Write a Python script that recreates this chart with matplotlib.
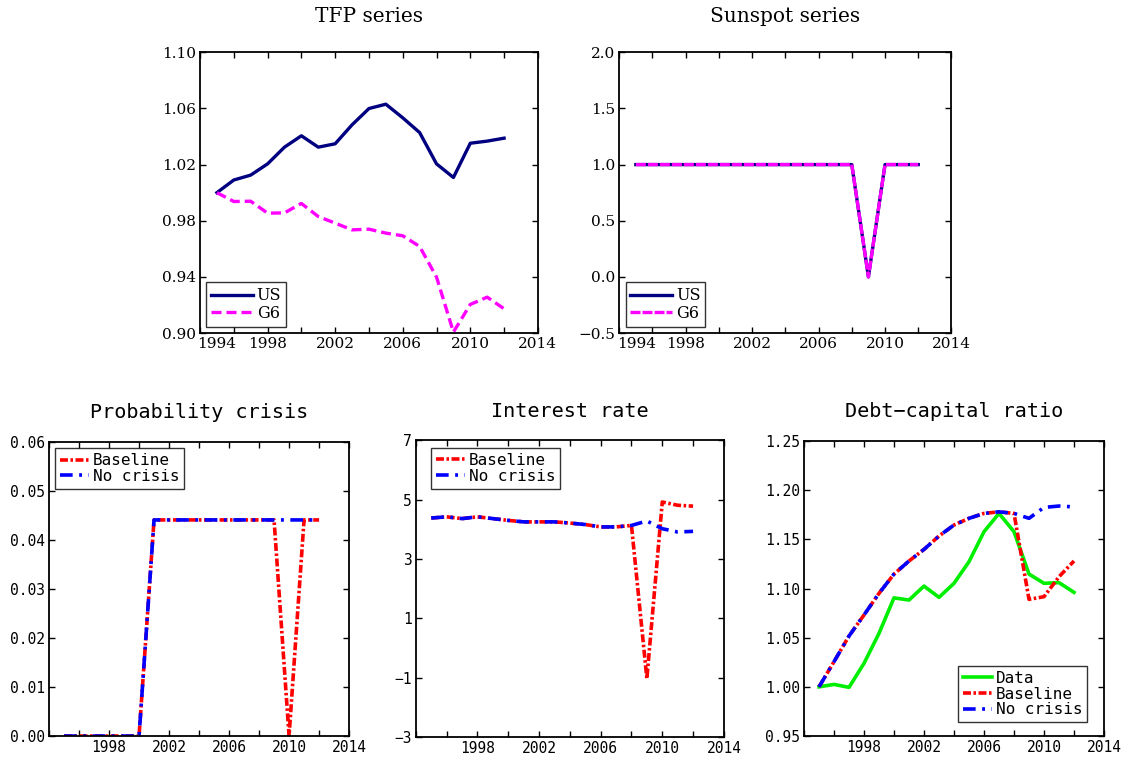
import matplotlib
matplotlib.use('Agg')
import matplotlib.pyplot as plt
import matplotlib.transforms as mtransforms
import numpy as np

# years of the simulated / observed series
years = list(range(1995, 2013))

# TFP series (index, 1995 = 1)
tfp_us = [1.000, 1.009, 1.0125, 1.0205, 1.0324, 1.0405, 1.0324, 1.0348, 1.0483,
          1.0599, 1.063, 1.0533, 1.0428, 1.0205, 1.0108, 1.0352, 1.0367, 1.0388]
tfp_g6 = [1.000, 0.9937, 0.9939, 0.9854, 0.9856, 0.9923, 0.983, 0.9783, 0.9735,
          0.974, 0.9712, 0.9693, 0.9617, 0.9399, 0.9007, 0.9204, 0.9256, 0.9173]

# sunspot series
sun_us = [1, 1, 1, 1, 1, 1, 1, 1, 1, 1, 1, 1, 1, 1, 0, 1, 1, 1]
sun_g6 = [1, 1, 1, 1, 1, 1, 1, 1, 1, 1, 1, 1, 1, 1, 0, 1, 1, 1]

# probability of a crisis
prob_base = [0, 0, 0, 0, 0, 0, 0.0441, 0.0441, 0.0441, 0.0441, 0.0441, 0.0441,
             0.0441, 0.0441, 0.0441, 0, 0.0441, 0.0441]
prob_nocr = [0, 0, 0, 0, 0, 0, 0.0441, 0.0441, 0.0441, 0.0441, 0.0441, 0.0441,
             0.0441, 0.0441, 0.0441, 0.0441, 0.0441, 0.0441]

# interest rate
rate_base = [4.38, 4.42, 4.36, 4.42, 4.36, 4.30, 4.25, 4.25, 4.25, 4.21, 4.16,
             4.08, 4.08, 4.13, -1.03, 4.92, 4.81, 4.78]
rate_nocr = [4.38, 4.42, 4.36, 4.42, 4.36, 4.30, 4.25, 4.25, 4.25, 4.21, 4.16,
             4.08, 4.08, 4.13, 4.28, 4.02, 3.91, 3.93]

# debt-capital ratio
debt_data = [1.000, 1.0025, 0.9995, 1.0239, 1.0544, 1.0905, 1.0883, 1.1025, 1.091,
             1.1053, 1.1273, 1.1578, 1.1764, 1.1578, 1.1147, 1.1053, 1.106, 1.0961]
debt_base = [1.000, 1.0256, 1.0517, 1.0731, 1.0951, 1.1147, 1.128, 1.1398, 1.1534,
             1.1646, 1.1714, 1.1764, 1.178, 1.1764, 1.089, 1.0917, 1.112, 1.128]
debt_nocr = [1.000, 1.0256, 1.0517, 1.0731, 1.0951, 1.1147, 1.128, 1.1398, 1.1534,
             1.1646, 1.1714, 1.1764, 1.178, 1.1764, 1.1714, 1.1825, 1.1839, 1.183]

serif = 'DejaVu Serif'
mono = 'DejaVu Sans Mono'

fig = plt.figure(figsize=(11.3, 7.57), dpi=100)

ax1 = fig.add_axes([0.177, 0.560, 0.299, 0.371])
ax2 = fig.add_axes([0.548, 0.560, 0.294, 0.371])
ax3 = fig.add_axes([0.0434, 0.0277, 0.2655, 0.3884])
ax4 = fig.add_axes([0.368, 0.0264, 0.2726, 0.392])
ax5 = fig.add_axes([0.7115, 0.0277, 0.2655, 0.3897])

base_style = dict(color='red', lw=2.6, linestyle=(0, (2.2, 0.7, 0.7, 0.7)))
nocr_style = dict(color='blue', lw=2.6, linestyle=(0, (3.5, 1.8, 0.8, 1.8)))


def style_axes(ax, font, tsize, first_label):
    ax.set_xlim(1994, 2014)
    ax.set_xticks(np.arange(1994, 2015, 4))
    ax.set_xticks(np.arange(1996, 2014, 4), minor=True)
    ax.tick_params(which='both', direction='in', top=True, right=True,
                   length=4, width=1, labelsize=tsize, pad=3)
    for s in ax.spines.values():
        s.set_linewidth(1.3)
    for lab in ax.get_xticklabels() + ax.get_yticklabels():
        lab.set_fontfamily(font)
    labs = ax.get_xticklabels()
    if first_label:
        off = mtransforms.ScaledTranslation(0.17, 0, fig.dpi_scale_trans)
        labs[0].set_transform(labs[0].get_transform() + off)
    else:
        labs[0].set_visible(False)


def legend(ax, loc, font, size, anchor=None, hlen=1.8):
    kw = {}
    if anchor is not None:
        kw['bbox_to_anchor'] = anchor
    leg = ax.legend(loc=loc, prop={'family': font, 'size': size}, fancybox=False,
                    handlelength=hlen, handletextpad=0.25, borderpad=0.3,
                    labelspacing=0.05, borderaxespad=0.4, **kw)
    leg.get_frame().set_edgecolor('black')
    leg.get_frame().set_linewidth(1.0)


# TFP series
ax1.plot(years, tfp_us, color='#000080', lw=2.4, label='US')
ax1.plot(years, tfp_g6, color='#ff00ff', lw=2.4, linestyle=(0, (3, 1.5)), label='G6')
ax1.set_ylim(0.90, 1.10)
ax1.set_yticks([0.90, 0.94, 0.98, 1.02, 1.06, 1.10])
ax1.set_yticklabels(['0.90', '0.94', '0.98', '1.02', '1.06', '1.10'])
style_axes(ax1, serif, 11, True)
ax1.set_title('TFP series', family=serif, fontsize=14.5, pad=22)
legend(ax1, 'lower left', serif, 11.5, hlen=2.6)

# Sunspot series
ax2.plot(years, sun_us, color='#000080', lw=2.4, label='US')
ax2.plot(years, sun_g6, color='#ff00ff', lw=2.4, linestyle=(0, (3, 0.6)), label='G6')
ax2.set_ylim(-0.5, 2.0)
ax2.set_yticks([-0.5, 0.0, 0.5, 1.0, 1.5, 2.0])
ax2.set_yticklabels(['\u22120.5', '0.0', '0.5', '1.0', '1.5', '2.0'])
style_axes(ax2, serif, 11, True)
ax2.set_title('Sunspot series', family=serif, fontsize=14.5, pad=22)
legend(ax2, 'lower left', serif, 11.5, hlen=2.6)

# Probability crisis
ax3.plot(years, prob_base, label='Baseline', **base_style)
ax3.plot(years, prob_nocr, label='No crisis', **nocr_style)
ax3.set_ylim(0, 0.06)
ax3.set_yticks([0, 0.01, 0.02, 0.03, 0.04, 0.05, 0.06])
ax3.set_yticklabels(['0.00', '0.01', '0.02', '0.03', '0.04', '0.05', '0.06'])
style_axes(ax3, mono, 10.5, False)
ax3.set_title('Probability crisis', family=mono, fontsize=14.5, pad=17)
legend(ax3, 'upper left', mono, 11.5)

# Interest rate
ax4.plot(years, rate_base, label='Baseline', **base_style)
ax4.plot(years, rate_nocr, label='No crisis', **nocr_style)
ax4.set_ylim(-3, 7)
ax4.set_yticks([-3, -1, 1, 3, 5, 7])
ax4.set_yticklabels(['\u22123', '\u22121', '1', '3', '5', '7'])
style_axes(ax4, mono, 10.5, False)
ax4.set_title('Interest rate', family=mono, fontsize=14.5, pad=17)
legend(ax4, 'upper left', mono, 11.5, anchor=(0.03, 0.995))

# Debt-capital ratio
ax5.plot(years, debt_data, color='#00ee00', lw=2.6, label='Data')
ax5.plot(years, debt_base, label='Baseline', **base_style)
ax5.plot(years, debt_nocr, label='No crisis', **nocr_style)
ax5.set_ylim(0.95, 1.25)
ax5.set_yticks([0.95, 1.00, 1.05, 1.10, 1.15, 1.20, 1.25])
ax5.set_yticklabels(['0.95', '1.00', '1.05', '1.10', '1.15', '1.20', '1.25'])
style_axes(ax5, mono, 10.5, False)
ax5.set_title('Debt\u2212capital ratio', family=mono, fontsize=14.5, pad=17)
legend(ax5, 'lower right', mono, 11.5, anchor=(0.965, 0.025))

fig.savefig('out.png', dpi=100)
